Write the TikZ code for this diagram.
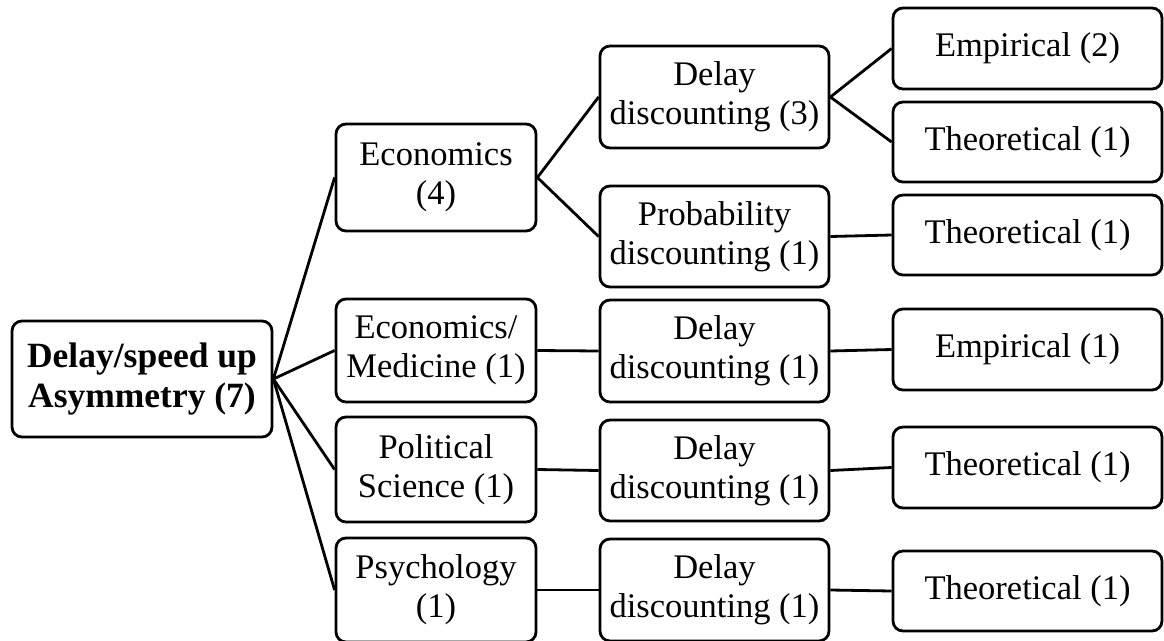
\documentclass[tikz,border=0pt]{standalone}
\usepackage{fontspec}
\setmainfont{Liberation Serif}
\begin{document}
\begin{tikzpicture}[x=1pt,y=-1pt,
  box/.style={draw=black, line width=2.8pt, rounded corners=10pt, inner sep=0pt,
    align=center, font=\fontsize{34.5}{39}\selectfont, fill=white},
  c2/.style={box, minimum width=200pt},
  c3/.style={box, minimum width=229pt},
  c4/.style={box, minimum width=269pt},
  link/.style={line width=2.8pt}]
\useasboundingbox (0,0) rectangle (1164,640);
\node[box, minimum width=260pt, minimum height=116pt, font=\fontsize{35.5}{40}\selectfont\bfseries] (root) at (142,379) {Delay/speed up\\Asymmetry (7)};
\node[c2, minimum height=107pt] (econ) at (436,177.5) {Economics\\(4)};
\node[c2, minimum height=103pt] (econmed) at (436,350.5) {Economics/\\Medicine (1)};
\node[c2, minimum height=105pt] (polsci) at (436,469.5) {Political\\Science (1)};
\node[c2, minimum height=104pt] (psych) at (436,590) {Psychology\\(1)};
\node[c3, minimum height=102pt] (dd3) at (714.5,97) {Delay\\discounting (3)};
\node[c3, minimum height=101pt] (pd1) at (714.5,236.5) {Probability\\discounting (1)};
\node[c3, minimum height=102pt] (dd1a) at (714.5,351) {Delay\\discounting (1)};
\node[c3, minimum height=101pt] (dd1b) at (714.5,470.5) {Delay\\discounting (1)};
\node[c3, minimum height=102pt] (dd1c) at (714.5,590) {Delay\\discounting (1)};
\node[c4, minimum height=81pt] (emp2) at (1027.5,48.5) {Empirical (2)};
\node[c4, minimum height=80pt] (theo1a) at (1027.5,142) {Theoretical (1)};
\node[c4, minimum height=80pt] (theo1b) at (1027.5,235) {Theoretical (1)};
\node[c4, minimum height=81pt] (emp1) at (1027.5,349.5) {Empirical (1)};
\node[c4, minimum height=81pt] (theo1c) at (1027.5,467.5) {Theoretical (1)};
\node[c4, minimum height=80pt] (theo1d) at (1027.5,591) {Theoretical (1)};
\draw[link] (root.east) -- (econ.west);
\draw[link] (root.east) -- (econmed.west);
\draw[link] (root.east) -- (polsci.west);
\draw[link] (root.east) -- (psych.west);
\draw[link] (econ.east) -- (dd3.west);
\draw[link] (econ.east) -- (pd1.west);
\draw[link] (econmed.east) -- (dd1a.west);
\draw[link] (polsci.east) -- (dd1b.west);
\draw[link] (psych.east) -- (dd1c.west);
\draw[link] (dd3.east) -- (emp2.west);
\draw[link] (dd3.east) -- (theo1a.west);
\draw[link] (pd1.east) -- (theo1b.west);
\draw[link] (dd1a.east) -- (emp1.west);
\draw[link] (dd1b.east) -- (theo1c.west);
\draw[link] (dd1c.east) -- (theo1d.west);
\end{tikzpicture}
\end{document}
